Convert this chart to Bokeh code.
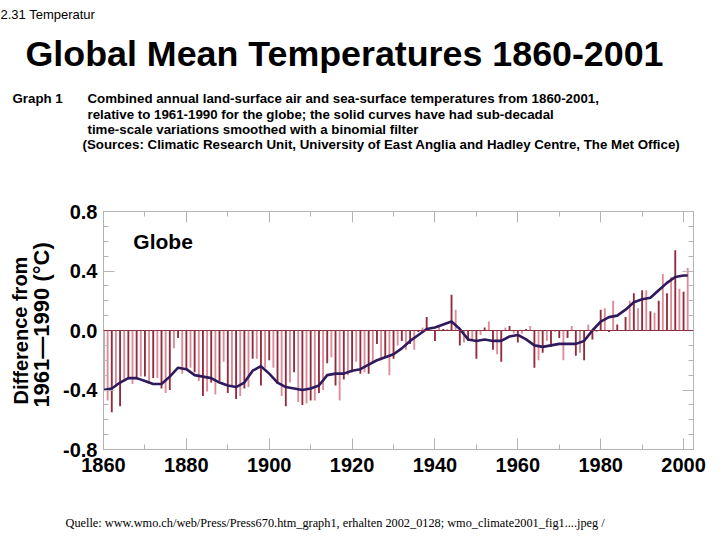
from bokeh.plotting import figure
from bokeh.layouts import column, row
from bokeh.models import Label, Span, LinearAxis, FixedTicker, NumeralTickFormatter, Range1d
from bokeh.embed import file_html
from bokeh.resources import INLINE

# ---------------- data ----------------
years = list(range(1860, 2002))
anomaly = [
    -0.39, -0.47, -0.55, -0.38, -0.51, -0.33, -0.33, -0.36, -0.33, -0.31,   # 1860s
    -0.31, -0.36, -0.32, -0.32, -0.39, -0.42, -0.40, -0.12, -0.05, -0.29,   # 1870s
    -0.26, -0.25, -0.28, -0.34, -0.44, -0.41, -0.35, -0.43, -0.34, -0.21,   # 1880s
    -0.42, -0.38, -0.46, -0.44, -0.39, -0.38, -0.19, -0.19, -0.37, -0.25,   # 1890s
    -0.20, -0.25, -0.36, -0.44, -0.51, -0.35, -0.28, -0.48, -0.50, -0.49,   # 1900s
    -0.47, -0.47, -0.42, -0.40, -0.22, -0.18, -0.37, -0.47, -0.33, -0.30,   # 1910s
    -0.28, -0.21, -0.29, -0.28, -0.29, -0.22, -0.09, -0.20, -0.18, -0.30,   # 1920s
    -0.19, -0.10, -0.07, -0.13, -0.09, -0.13, -0.01, 0.02, 0.09, 0.00,      # 1930s
    -0.07, 0.03, 0.01, 0.01, 0.24, 0.14, -0.10, -0.08, -0.07, -0.06,       # 1940s
    -0.19, -0.03, 0.02, 0.06, -0.13, -0.16, -0.21, 0.02, 0.03, -0.02,      # 1950s
    -0.08, -0.02, 0.01, 0.03, -0.25, -0.20, -0.15, -0.07, -0.11, -0.01,    # 1960s
    -0.05, -0.20, -0.05, 0.03, -0.17, -0.15, -0.20, 0.04, -0.06, -0.01,    # 1970s
    0.14, 0.15, -0.01, 0.20, 0.04, 0.00, 0.09, 0.20, 0.25, 0.15,           # 1980s
    0.27, 0.27, 0.13, 0.12, 0.20, 0.38, 0.25, 0.36, 0.54, 0.28,            # 1990s
    0.26, 0.42,                                                            # 2000-2001
]

# binomial-filtered curve, every two years
smooth_years = list(range(1860, 2001, 2)) + [2001]
smooth_vals = [
    -0.40, -0.39, -0.35, -0.32, -0.32, -0.34, -0.36, -0.36, -0.31, -0.25,  # 1860-1878
    -0.26, -0.30, -0.31, -0.32, -0.35, -0.37, -0.38, -0.35, -0.27, -0.24,  # 1880-1898
    -0.29, -0.35, -0.38, -0.39, -0.40, -0.39, -0.37, -0.30, -0.29, -0.29,  # 1900-1918
    -0.27, -0.26, -0.23, -0.20, -0.18, -0.16, -0.12, -0.07, -0.03, 0.01,   # 1920-1938
    0.02, 0.04, 0.06, 0.01, -0.06, -0.07, -0.06, -0.07, -0.07, -0.04,      # 1940-1958
    -0.03, -0.06, -0.10, -0.11, -0.10, -0.09, -0.09, -0.09, -0.07, 0.00,   # 1960-1978
    0.06, 0.09, 0.10, 0.14, 0.19, 0.21, 0.22, 0.27, 0.32, 0.36,            # 1980-1998
    0.37, 0.37,                                                            # 2000-2001
]

y_ticks = [-0.8, -0.4, 0.0, 0.4, 0.8]
y_minor = [-0.7, -0.6, -0.5, -0.3, -0.2, -0.1, 0.1, 0.2, 0.3, 0.5, 0.6, 0.7]
x_ticks = [1860, 1880, 1900, 1920, 1940, 1960, 1980, 2000]
x_minor = [1870, 1890, 1910, 1930, 1950, 1970, 1990]

# ---------------- layout geometry (page pixels) ----------------
PAGE_W = 720
HEAD_H = 190
MID_H = 300
FOOT_H = 48
YLAB_W = 60
FRAME_L, FRAME_R, FRAME_T, FRAME_B = 103, 693, 211, 449


def text_panel(width, height, top):
    f = figure(width=width, height=height, output_backend="svg", toolbar_location=None,
               x_range=Range1d(0, width), y_range=Range1d(top + height, top),
               x_axis_type=None, y_axis_type=None, min_border=0,
               background_fill_color="white", border_fill_color="white")
    f.outline_line_color = None
    f.grid.visible = False
    return f


def lab(f, text, x, y, size, bold=False, align="left", font="Liberation Sans", angle=0):
    f.add_layout(Label(x=x, y=y, text=text, text_font=font, text_font_size=size,
                       text_font_style="bold" if bold else "normal", text_align=align,
                       text_baseline="middle", text_color="black", angle=angle))


# header
head = text_panel(PAGE_W, HEAD_H, 0)
lab(head, "2.31 Temperatur", 0, 14, "13px")
lab(head, "Global Mean Temperatures 1860-2001", 344, 53, "35.8px", bold=True, align="center")
HS = "13.3px"
lab(head, "Graph 1", 12, 98, HS, bold=True)
lab(head, "Combined annual land-surface air and sea-surface temperatures from 1860-2001,", 87, 98, HS, bold=True)
lab(head, "relative to 1961-1990 for the globe; the solid curves have had sub-decadal", 87, 114, HS, bold=True)
lab(head, "time-scale variations smoothed with a binomial filter", 87, 129, HS, bold=True)
lab(head, "(Sources: Climatic Research Unit, University of East Anglia and Hadley Centre, The Met Office)", 82, 144, HS, bold=True)

# y-axis title panel
ylab = text_panel(YLAB_W, MID_H, HEAD_H)
lab(ylab, "Difference from", 20, 340, "20px", bold=True, align="center", angle=1.5708)
lab(ylab, "1961\u20141990 (\u00b0C)", 41, 333, "22px", bold=True, align="center", angle=1.5708)

# main chart
main_w = PAGE_W - YLAB_W
p = figure(width=main_w, height=MID_H, output_backend="svg", toolbar_location=None,
           x_range=Range1d(1860, 2002.4), y_range=Range1d(-0.8, 0.8),
           min_border_left=FRAME_L - YLAB_W, min_border_right=PAGE_W - FRAME_R,
           min_border_top=FRAME_T - HEAD_H, min_border_bottom=HEAD_H + MID_H - FRAME_B,
           background_fill_color="white", border_fill_color="white")
p.grid.visible = False
p.outline_line_color = "#c4c4c4"

AX = "#b4b4b4"
def style_axis(ax, ticks, minor, labels):
    ax.ticker = FixedTicker(ticks=ticks, minor_ticks=minor)
    ax.axis_line_color = AX
    ax.major_tick_line_color = AX
    ax.minor_tick_line_color = AX
    ax.major_tick_in = 11
    ax.major_tick_out = 0
    ax.minor_tick_in = 5
    ax.minor_tick_out = 0
    if labels:
        ax.major_label_text_font = "Liberation Sans"
        ax.major_label_text_font_style = "bold"
        ax.major_label_text_font_size = "20px"
        ax.major_label_text_color = "black"
    else:
        ax.major_label_text_font_size = "0px"
        ax.major_label_text_alpha = 0

style_axis(p.yaxis[0], y_ticks, y_minor, True)
p.yaxis[0].formatter = NumeralTickFormatter(format="0.0")
p.yaxis[0].major_label_standoff = 6
style_axis(p.xaxis[0], x_ticks, x_minor, True)
p.xaxis[0].major_label_standoff = 8

ra = LinearAxis()
style_axis(ra, y_ticks, y_minor, False)
p.add_layout(ra, "right")
ta = LinearAxis()
style_axis(ta, x_ticks, x_minor, False)
p.add_layout(ta, "above")

DARK, LIGHT = "#922c3c", "#dd8c98"
bar_colors = [DARK if i % 2 == 0 else LIGHT for i in range(len(years))]
p.vbar(x=years, top=anomaly, bottom=0, width=0.45, fill_color=bar_colors, line_color=None)
p.add_layout(Span(location=0, dimension="width", line_color="#8a3040", line_width=1))
p.line(smooth_years, smooth_vals, line_color="#2e1a5c", line_width=2.6)
p.add_layout(Label(x=1867.2, y=0.60, text="Globe", text_font="Liberation Sans", text_font_size="21px",
                   text_font_style="bold", text_baseline="middle", text_color="black"))

# footer
foot = text_panel(PAGE_W, FOOT_H, HEAD_H + MID_H)
lab(foot, "Quelle: www.wmo.ch/web/Press/Press670.htm_graph1,  erhalten 2002_0128;  wmo_climate2001_fig1....jpeg /",
    65, 522, "12.3px", font="Liberation Serif")

layout = column(head, row(ylab, p, spacing=0), foot, spacing=0)
open("out.html", "w").write(file_html(layout, INLINE))
